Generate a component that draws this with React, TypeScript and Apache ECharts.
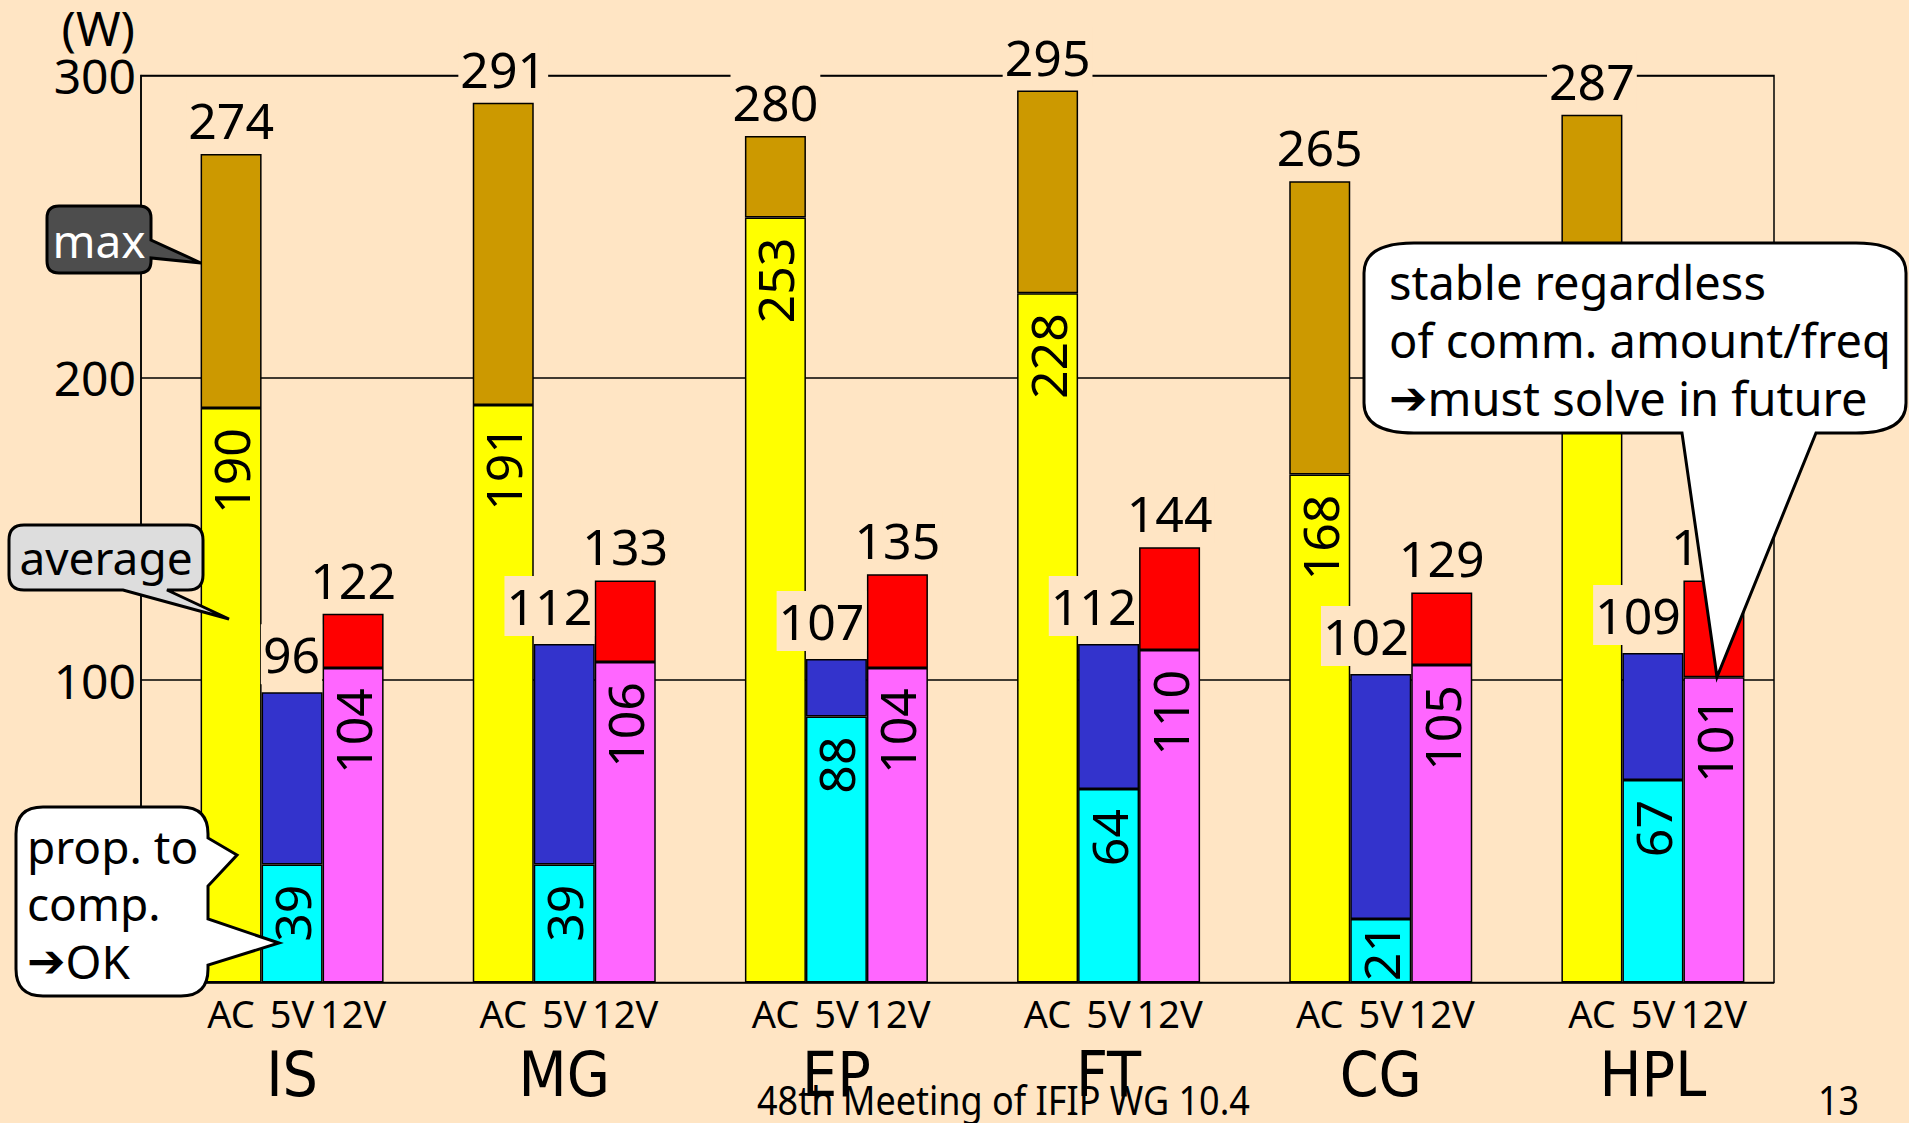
import React, { useEffect, useRef } from 'react';
import * as echarts from 'echarts';

// Power consumption (W) per benchmark: AC input vs. 5V / 12V DC rails
const categories = ['IS', 'MG', 'EP', 'FT', 'CG', 'HPL'];
const supplyLabels = ['AC', '5V', '12V'];
const acMax = [274, 291, 280, 295, 265, 287];
const acAvg = [190, 191, 253, 228, 168, 232];
const dc5Total = [96, 112, 107, 112, 102, 109];
const dc5Comp = [39, 39, 88, 64, 21, 67];
const dc12Total = [122, 133, 135, 144, 129, 133];
const dc12Base = [104, 106, 104, 110, 105, 101];
const yMin = 0;
const yMax = 300;
const yStep = 100;

const BG = '#FFE5C4';
const FONT = "'Noto Sans', 'DejaVu Sans', sans-serif";
const NARROW = "'Liberation Sans Narrow', 'DejaVu Sans Condensed', Roboto, 'Noto Sans', sans-serif";

// Speech-bubble outlines for the annotations
const bubbles: Record<string, string> = {
  bubbleMax:
    'M 59 206 H 139 Q 151 206 151 218 V 240 L 201 263 L 151 258 V 261 Q 151 273 139 273 H 59 Q 47 273 47 261 V 218 Q 47 206 59 206 Z',
  bubbleAvg:
    'M 24 525 H 188 Q 203 525 203 540 V 575 Q 203 590 188 590 H 167 L 229 619 L 123 590 H 24 Q 9 590 9 575 V 540 Q 9 525 24 525 Z',
  bubbleComp:
    'M 43 807 H 181 Q 208 807 208 834 V 838 L 237 855 L 208 886 V 919 L 279 943 L 208 965 V 969 Q 208 996 181 996 H 43 Q 16 996 16 969 V 834 Q 16 807 43 807 Z',
  bubbleComm:
    'M 1414 243 H 1856 Q 1906 243 1906 273 V 403 Q 1906 433 1856 433 H 1816 L 1717 677 L 1682 433 H 1414 Q 1364 433 1364 403 V 273 Q 1364 243 1414 243 Z',
};
Object.keys(bubbles).forEach((name) => {
  echarts.graphic.registerShape(name, echarts.graphic.extendPath(bubbles[name], {}));
});

const valueText = { fontSize: 50, fontFamily: FONT, color: '#000' };
const barEdge = { borderColor: '#000', borderWidth: 1.5 };

const insideLabel = {
  show: true,
  position: 'insideTop',
  rotate: 90,
  align: 'right',
  verticalAlign: 'middle',
  distance: 20,
  ...valueText,
};

const topLabel = (totals: number[], extra: Record<string, unknown> = {}) => ({
  show: true,
  position: 'top',
  distance: 4,
  backgroundColor: BG,
  padding: [5, 2, 5, 2],
  formatter: (p: { dataIndex: number }) => String(totals[p.dataIndex]),
  ...valueText,
  ...extra,
});

const arrowRich = {
  a: { fontSize: 46, fontFamily: "'DejaVu Sans', sans-serif", fontWeight: 'bold', fill: '#000', color: '#000' },
};

function bubbleText(text: string, x: number, y: number, opts: Record<string, unknown> = {}, extra: Record<string, unknown> = {}) {
  return {
    type: 'text',
    x,
    y,
    z: 110,
    ...extra,
    style: {
      text,
      fill: '#000',
      fontSize: 46,
      fontFamily: FONT,
      align: 'left',
      verticalAlign: 'middle',
      textAlign: 'left',
      textVerticalAlign: 'middle',
      rich: arrowRich,
      ...opts,
    },
  };
}

function buildOption() {
  return {
    animation: false,
    backgroundColor: BG,
    grid: [
      {
        left: 141,
        right: 135,
        top: 75.5,
        bottom: 140.5,
        show: true,
        borderColor: '#000',
        borderWidth: 1.5,
        backgroundColor: 'transparent',
      },
      { left: 156, right: 120, top: 75.5, bottom: 140.5 },
    ],
    xAxis: [
      { type: 'category', gridIndex: 0, data: categories, show: false },
      {
        type: 'category',
        gridIndex: 1,
        data: categories,
        axisLine: { show: false },
        axisTick: { show: false },
        axisLabel: {
          margin: 6,
          interval: 0,
          color: '#000',
          formatter: (v: string) =>
            supplyLabels.map((s) => `{s|${s}}`).join('') + `\n{m|${v}}`,
          rich: {
            s: { width: 61, align: 'center', fontSize: 38, fontFamily: FONT, lineHeight: 49, color: '#000' },
            m: { fontSize: 62, fontFamily: NARROW, lineHeight: 73, color: '#000' },
          },
        },
      },
    ],
    yAxis: [
      {
        type: 'value',
        gridIndex: 0,
        min: yMin,
        max: yMax,
        interval: yStep,
        name: '(W)',
        nameLocation: 'end',
        nameGap: 22,
        nameTextStyle: {
          fontSize: 48,
          lineHeight: 40,
          fontFamily: FONT,
          color: '#000',
          align: 'right',
          verticalAlign: 'bottom',
          padding: [0, 6, 0, 0],
        },
        axisLine: { show: true, lineStyle: { color: '#000', width: 1.5 } },
        axisTick: { show: false },
        axisLabel: {
          fontSize: 48,
          lineHeight: 40,
          fontFamily: FONT,
          color: '#000',
          margin: 5,
          showMinLabel: false,
        },
        splitLine: { show: true, lineStyle: { color: '#000', width: 1.5 } },
      },
      { type: 'value', gridIndex: 1, min: yMin, max: yMax, interval: yStep, show: false },
    ],
    series: [
      {
        name: 'AC average',
        type: 'bar',
        xAxisIndex: 1,
        yAxisIndex: 1,
        stack: 'ac',
        barWidth: 61,
        barGap: '0%',
        itemStyle: { color: '#FFFF00', ...barEdge },
        label: insideLabel,
        data: acAvg,
      },
      {
        name: 'AC max',
        type: 'bar',
        xAxisIndex: 1,
        yAxisIndex: 1,
        stack: 'ac',
        barWidth: 61,
        barGap: '0%',
        itemStyle: { color: '#CC9900', ...barEdge },
        label: topLabel(acMax),
        data: acMax.map((m, i) => m - acAvg[i]),
      },
      {
        name: '5V compute',
        type: 'bar',
        xAxisIndex: 1,
        yAxisIndex: 1,
        stack: 'dc5',
        barWidth: 61,
        barGap: '0%',
        itemStyle: { color: '#00FFFF', ...barEdge },
        label: insideLabel,
        data: dc5Comp.map((v) => (v < 30 ? { value: v, label: { distance: 5 } } : v)),
      },
      {
        name: '5V total',
        type: 'bar',
        xAxisIndex: 1,
        yAxisIndex: 1,
        stack: 'dc5',
        barWidth: 61,
        barGap: '0%',
        itemStyle: { color: '#3333CC', ...barEdge },
        label: topLabel(dc5Total, { align: 'right', offset: [30, 0], distance: 8 }),
        data: dc5Total.map((t, i) => t - dc5Comp[i]),
      },
      {
        name: '12V base',
        type: 'bar',
        xAxisIndex: 1,
        yAxisIndex: 1,
        stack: 'dc12',
        barWidth: 61,
        barGap: '0%',
        itemStyle: { color: '#FF66FF', ...barEdge },
        label: insideLabel,
        data: dc12Base,
      },
      {
        name: '12V total',
        type: 'bar',
        xAxisIndex: 1,
        yAxisIndex: 1,
        stack: 'dc12',
        barWidth: 61,
        barGap: '0%',
        itemStyle: { color: '#FF0000', ...barEdge },
        label: topLabel(dc12Total),
        data: dc12Total.map((t, i) => t - dc12Base[i]),
      },
    ],
    graphic: [
      { type: 'bubbleMax', x: 0, y: 0, z: 100, style: { fill: '#4D4D4D', stroke: '#000', lineWidth: 3 } },
      bubbleText('max', 99, 240, { fill: '#FFFFFF', align: 'center', textAlign: 'center' }),
      { type: 'bubbleAvg', x: 0, y: 0, z: 100, style: { fill: '#DDDDDD', stroke: '#000', lineWidth: 3 } },
      bubbleText('average', 106, 557, { align: 'center', textAlign: 'center' }),
      { type: 'bubbleComp', x: 0, y: 0, z: 100, style: { fill: '#FFFFFF', stroke: '#000', lineWidth: 3 } },
      bubbleText('prop. to', 27, 846),
      bubbleText('comp.', 27, 903),
      bubbleText('{a|➔}OK', 27, 961),
      { type: 'bubbleComm', x: 0, y: 0, z: 100, style: { fill: '#FFFFFF', stroke: '#000', lineWidth: 3 } },
      bubbleText('stable regardless', 1389, 282, { fontSize: 47 }),
      bubbleText('of comm. amount/freq', 1389, 340, { fontSize: 47 }),
      bubbleText('{a|➔}must solve in future', 1389, 398, { fontSize: 47 }),
      bubbleText('48th Meeting of IFIP WG 10.4', 757, 1099, { fontSize: 40, lineHeight: 40 }, { scaleX: 0.9 }),
      bubbleText('13', 1818, 1099, { fontSize: 40, lineHeight: 40 }, { scaleX: 0.9 }),
    ],
  };
}

export default function App() {
  const ref = useRef<HTMLDivElement>(null);
  useEffect(() => {
    if (!ref.current) return;
    const chart = echarts.init(ref.current, undefined, { renderer: 'svg' });
    chart.setOption(buildOption() as any);
    return () => chart.dispose();
  }, []);
  return (
    <div
      ref={ref}
      style={{ position: 'fixed', left: 0, top: 0, width: 1909, height: 1123, background: BG }}
    />
  );
}
